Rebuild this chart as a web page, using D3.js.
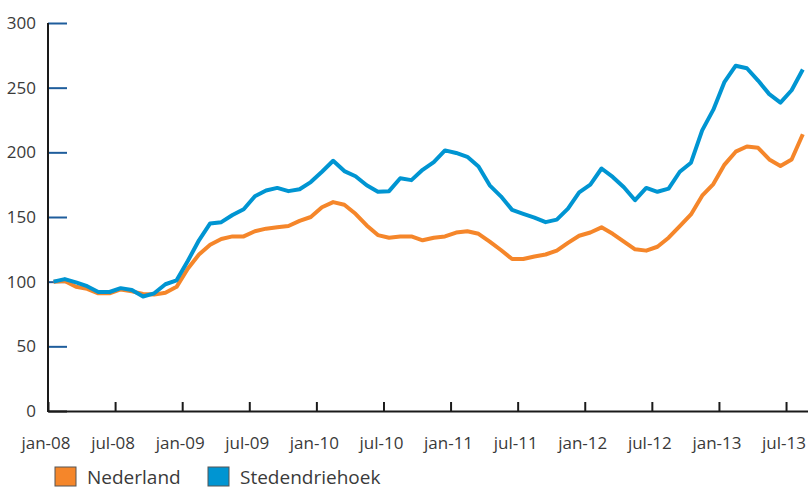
<!DOCTYPE html>
<html>
<head>
<meta charset="utf-8">
<script src="https://cdn.jsdelivr.net/npm/d3@7"></script>
<style>
  body { margin: 0; background: #fff; }
  svg { display: block; font-family: "Open Sans", sans-serif; }
</style>
</head>
<body>
<svg id="chart" width="808" height="491"></svg>
<script>
// monthly index, jan-08 = 100
const months = d3.range(68).map((i) => new Date(2008, i, 1));

const nederland = [
  100, 100.5, 96, 94.5, 91, 91, 94, 92.5, 90.5, 90, 91.5, 96,
  110, 121, 128.5, 133, 135, 135, 139, 141, 142, 143, 147, 150,
  157.5, 161.5, 159.5, 152.5, 143.5, 136, 134, 135, 135, 132, 134, 135,
  138, 139, 137, 131, 124.5, 117.5, 117.5, 119.5, 121, 124, 130, 135.5,
  138, 142, 137, 131, 125, 124, 127, 134, 143, 152, 166.5, 175.5,
  190.5, 200.5, 204.5, 203.5, 194.5, 189.5, 194.5, 214
];

const stedendriehoek = [
  100, 102, 99.5, 96.5, 92, 92, 95, 93.5, 88.5, 91, 98, 101,
  116, 132, 145, 146, 151.5, 156, 166, 170.5, 172.5, 170, 171.5, 177,
  185, 193.5, 185.5, 181.5, 174.5, 169.5, 170, 180, 178.5, 186.5, 192.5, 201.5,
  199.5, 196.5, 189, 174.5, 166, 155.5, 152.5, 149.5, 146, 148, 156.5, 169,
  175, 187.5, 181, 173, 163, 172.5, 169.5, 172, 185, 192, 217, 233,
  254.5, 267, 265, 255.5, 245, 238.5, 248, 264
];

const yTicks = [0, 50, 100, 150, 200, 250, 300];
const xTickMonths = d3.range(0, 67, 6); // jan / jul boundaries
const seriesNames = ["Nederland", "Stedendriehoek"];
const seriesColors = ["#f5862a", "#0095d2"];

const svg = d3.select("#chart");

// category axis: points sit in the middle of each month
const x = d3.scaleLinear().domain([0, months.length]).range([48, 808.4]);
const y = d3.scaleLinear().domain([0, 300]).range([411, 23]);

const fmt = d3.timeFormat("%b-%y");
const nlMonth = { Jan: "jan", Jul: "jul" };

// y axis: blue ticks pointing into the plot
const yAxis = d3
  .axisRight(y)
  .tickValues(yTicks)
  .tickSize(19)
  .tickFormat("");
const gy = svg.append("g").attr("transform", "translate(48,0)").call(yAxis);
gy.select(".domain").remove();
gy.selectAll(".tick line")
  .attr("stroke", (d) => (d === 0 ? "#1a1a1a" : "#1f5d9c"))
  .attr("stroke-width", 2);

svg
  .append("g")
  .selectAll("text")
  .data(yTicks)
  .join("text")
  .attr("x", 36)
  .attr("y", (d) => y(d))
  .attr("dy", "0.36em")
  .attr("text-anchor", "end")
  .attr("font-size", 17)
  .attr("fill", "#3a3a3a")
  .text((d) => d);

// x axis: black ticks pointing up
const xAxis = d3
  .axisTop(x)
  .tickValues(xTickMonths)
  .tickSize(9)
  .tickSizeOuter(0)
  .tickFormat("");
const gx = svg.append("g").attr("transform", `translate(0,${y(0)})`).call(xAxis);
gx.select(".domain").attr("stroke", "#1a1a1a").attr("stroke-width", 2);
gx.selectAll(".tick line").attr("stroke", "#1a1a1a").attr("stroke-width", 2);

svg
  .append("g")
  .selectAll("text")
  .data(xTickMonths)
  .join("text")
  .attr("x", (d) => x(d) - 2)
  .attr("y", 449)
  .attr("text-anchor", "middle")
  .attr("font-size", 17)
  .attr("fill", "#3a3a3a")
  .text((d) => {
    const s = fmt(months[d]);
    return nlMonth[s.slice(0, 3)] + s.slice(3);
  });

// y axis line on top of tick stubs
svg
  .append("line")
  .attr("x1", 48)
  .attr("x2", 48)
  .attr("y1", y(300))
  .attr("y2", y(0) + 1)
  .attr("stroke", "#1a1a1a")
  .attr("stroke-width", 2);

// lines
const line = d3
  .line()
  .x((d, i) => x(i + 0.5))
  .y((d) => y(d));

[nederland, stedendriehoek].forEach((values, k) => {
  svg
    .append("path")
    .datum(values)
    .attr("fill", "none")
    .attr("stroke", seriesColors[k])
    .attr("stroke-width", 4)
    .attr("stroke-linejoin", "round")
    .attr("d", line);
});

// legend (kept a few px above the bottom edge)
const legendX = [55, 208];
const legend = svg
  .append("g")
  .selectAll("g")
  .data(seriesNames)
  .join("g")
  .attr("transform", (d, i) => `translate(${legendX[i]},467)`);

legend
  .append("rect")
  .attr("width", 21)
  .attr("height", 19)
  .attr("fill", (d, i) => seriesColors[i])
  .attr("stroke", "#555")
  .attr("stroke-width", 1);

legend
  .append("text")
  .attr("x", 32)
  .attr("y", 17)
  .attr("font-size", 19)
  .attr("fill", "#3a3a3a")
  .text((d) => d);
</script>
</body>
</html>
